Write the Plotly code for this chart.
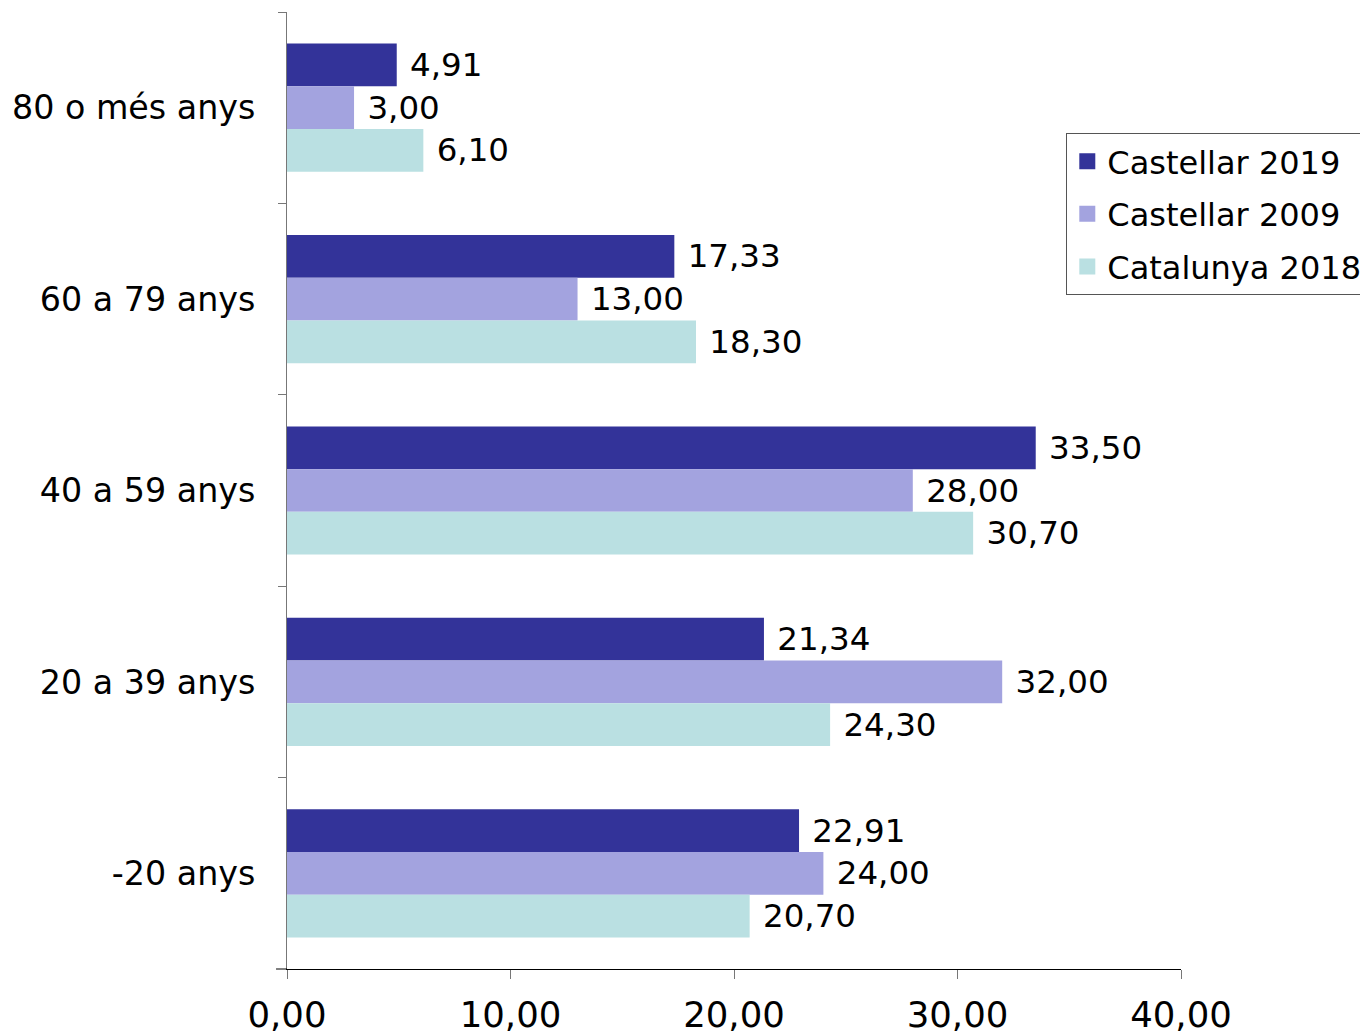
import plotly.graph_objects as go

categories = ["80 o més anys", "60 a 79 anys", "40 a 59 anys", "20 a 39 anys", "-20 anys"]
castellar_2019 = [4.91, 17.33, 33.50, 21.34, 22.91]
castellar_2009 = [3.00, 13.00, 28.00, 32.00, 24.00]
catalunya_2018 = [6.10, 18.30, 30.70, 24.30, 20.70]
x_ticks = [0, 10, 20, 30, 40]

series = [
    ("Castellar 2019", castellar_2019, "#333399"),
    ("Castellar 2009", castellar_2009, "#A3A3DF"),
    ("Catalunya 2018", catalunya_2018, "#BAE0E2"),
]

FONT = "Verdana, DejaVu Sans, sans-serif"

fig = go.Figure()
for name, vals, color in series:
    fig.add_trace(go.Bar(
        y=categories, x=vals, name=name, orientation="h",
        marker=dict(color=color, line=dict(width=0)),
        texttemplate="\u00a0%{x:.2f}", textposition="outside",
        constraintext="none", cliponaxis=False,
        outsidetextfont=dict(family=FONT, size=32.5, color="black"),
        showlegend=False,
    ))
# legend-only entries with larger square swatches
for name, vals, color in series:
    fig.add_trace(go.Scatter(
        x=[None], y=[None], mode="markers", name=name, legendgroup=name,
        marker=dict(symbol="square", size=18, color=color),
        showlegend=True,
    ))

fig.update_layout(
    width=1368, height=1035,
    margin=dict(l=276, r=195, t=4, b=74),
    barmode="group", bargap=0.33, bargroupgap=0,
    separators=",.",
    plot_bgcolor="white", paper_bgcolor="white",
    font=dict(family=FONT, size=30, color="black"),
    showlegend=True,
    legend=dict(x=0.8717, y=0.8736, xanchor="left", yanchor="top",
                bordercolor="#555555", borderwidth=1, bgcolor="white",
                font=dict(family=FONT, size=32), tracegroupgap=8),
    xaxis=dict(range=[0, 40], tickvals=x_ticks, tickformat=".2f",
               showgrid=False, zeroline=False, showline=True, linecolor="black",
               linewidth=1, ticks="outside", ticklen=9, tickcolor="#777777",
               ticklabelstandoff=5,
               tickfont=dict(family=FONT, size=35.5)),
    yaxis=dict(autorange="reversed", type="category", tickson="boundaries",
               showgrid=False, showline=True, linecolor="#777777", linewidth=1,
               ticks="outside", ticklen=8, tickcolor="#777777",
               ticklabelstandoff=24,
               tickfont=dict(family=FONT, size=33.3)),
    shapes=[dict(type="line", xref="paper", yref="paper", x0=-11 / 897, x1=0,
                 y0=0, y1=0, line=dict(color="black", width=1))],
)

fig.write_html("out.html")
